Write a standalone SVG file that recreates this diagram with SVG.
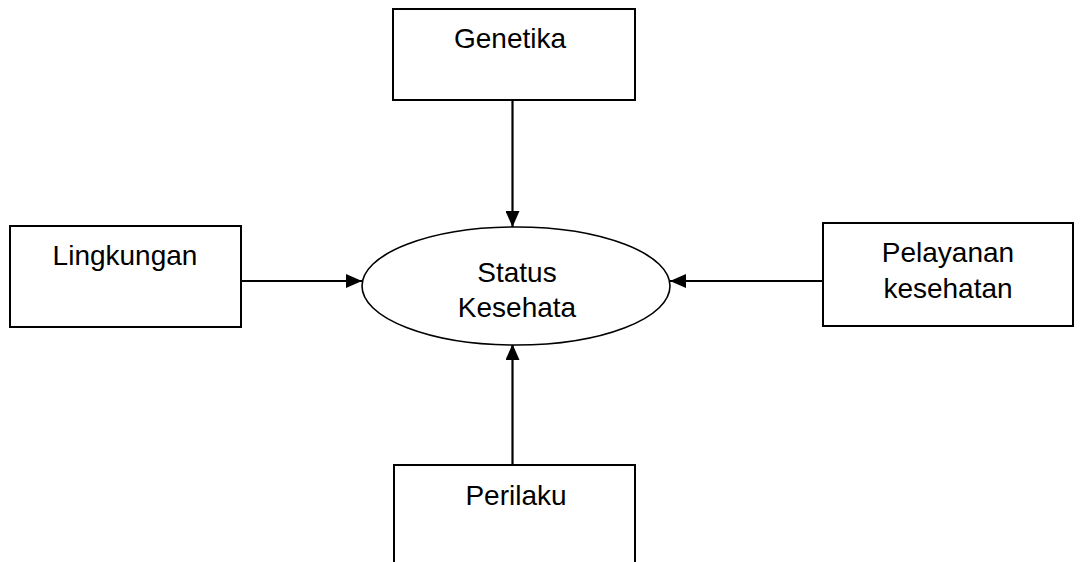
<svg xmlns="http://www.w3.org/2000/svg" width="1080" height="562" viewBox="0 0 1080 562">
<style>
.box{fill:#fff;stroke:#000;stroke-width:2}
.ell{fill:#fff;stroke:#000;stroke-width:1.6}
.lbl{font-family:"Liberation Sans",Arial,sans-serif;font-size:28px;fill:#000;text-anchor:middle}
.con{stroke:#000;stroke-width:2.2;fill:none;marker-end:url(#ah)}
</style>
<defs>
<marker id="ah" viewBox="0 0 16 14" refX="16" refY="7" markerWidth="16" markerHeight="14" markerUnits="userSpaceOnUse" orient="auto">
<path d="M0,0 L16,7 L0,14 z" fill="#000"/>
</marker>
</defs>
<rect width="1080" height="562" fill="#fff"/>
<g id="connectors">
<line class="con" x1="512.5" y1="100" x2="512.5" y2="227"/>
<line class="con" x1="241" y1="281" x2="362" y2="281"/>
<line class="con" x1="823" y1="281" x2="670" y2="281"/>
<line class="con" x1="512.5" y1="465" x2="512.5" y2="344"/>
</g>
<g id="genetika">
<rect class="box" x="393" y="9" width="242" height="91"/>
<text class="lbl" x="510" y="48">Genetika</text>
</g>
<g id="lingkungan">
<rect class="box" x="10" y="226" width="231" height="101"/>
<text class="lbl" x="125" y="265">Lingkungan</text>
</g>
<g id="pelayanan">
<rect class="box" x="823" y="223" width="250" height="103"/>
<text class="lbl" x="948" y="262">Pelayanan</text>
<text class="lbl" x="948" y="298">kesehatan</text>
</g>
<g id="perilaku">
<rect class="box" x="394" y="465" width="241" height="110"/>
<text class="lbl" x="516" y="505">Perilaku</text>
</g>
<g id="status">
<ellipse class="ell" cx="516" cy="286" rx="154" ry="59"/>
<text class="lbl" x="517" y="282">Status</text>
<text class="lbl" x="517" y="317">Kesehata</text>
</g>
</svg>
